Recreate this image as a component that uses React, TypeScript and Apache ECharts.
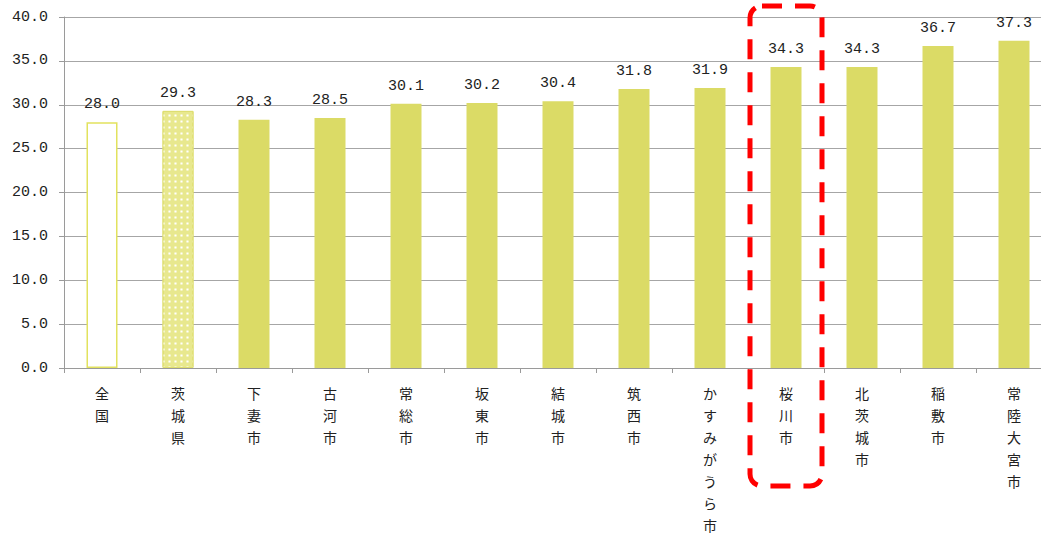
import React, { useEffect, useRef } from "react";
import * as echarts from "echarts";

const categories = [
  "全国", "茨城県", "下妻市", "古河市", "常総市", "坂東市", "結城市",
  "筑西市", "かすみがうら市", "桜川市", "北茨城市", "稲敷市", "常陸大宮市",
];
const values = [28.0, 29.3, 28.3, 28.5, 30.1, 30.2, 30.4, 31.8, 31.9, 34.3, 34.3, 36.7, 37.3];
const yTicks = { min: 0, max: 40, interval: 5 };
const highlightCategory = "桜川市";

const BAR = "#DBDB66";
const NUM_FONT = "Liberation Mono";
const CJK_FONT = "Noto Sans CJK JP";

export default function App() {
  const ref = useRef<HTMLDivElement>(null);
  useEffect(() => {
    const chart = echarts.init(ref.current!, null, { renderer: "svg" });
    const data = values.map((v, i) => {
      if (i === 0) {
        return {
          value: v,
          itemStyle: { color: "#FFFFFF", borderColor: "#E2E25E", borderWidth: 1.5 },
        };
      }
      if (i === 1) {
        return {
          value: v,
          itemStyle: {
            color: "#E8E88E",
            borderColor: "#DEDE70",
            borderWidth: 1,
            decal: {
              symbol: "rect",
              symbolSize: 0.7,
              color: "#FFFFFF",
              backgroundColor: "#E8E88E",
              dashArrayX: [[3, 3]],
              dashArrayY: [3, 3],
              rotation: 0,
            },
          },
        };
      }
      return { value: v, itemStyle: { color: BAR } };
    });
    chart.setOption({
      animation: false,
      grid: { left: 64, top: 17, width: 988, height: 351, containLabel: false },
      xAxis: {
        type: "category",
        data: categories,
        axisLine: { lineStyle: { color: "#9A9A9A", width: 1 } },
        axisTick: { show: true, length: 5, lineStyle: { color: "#9A9A9A" } },
        axisLabel: {
          interval: 0,
          margin: 14,
          fontFamily: CJK_FONT,
          fontSize: 14,
          lineHeight: 22,
          color: "#222",
          verticalAlign: "top",
          formatter: (v: string) => v.split("").join("\n"),
        },
      },
      yAxis: {
        type: "value",
        min: yTicks.min,
        max: yTicks.max,
        interval: yTicks.interval,
        axisLine: { show: true, lineStyle: { color: "#9A9A9A", width: 1 } },
        axisTick: { show: true, length: 5, lineStyle: { color: "#9A9A9A" } },
        splitLine: { show: true, lineStyle: { color: "#A6A6A6", width: 1 } },
        axisLabel: {
          margin: 16,
          fontFamily: NUM_FONT,
          fontSize: 15,
          color: "#222",
          formatter: (v: number) => v.toFixed(1),
        },
      },
      series: [
        {
          type: "bar",
          data,
          barWidth: 31,
          label: {
            show: true,
            position: "top",
            distance: 10,
            fontFamily: NUM_FONT,
            fontSize: 15,
            color: "#222",
            formatter: (p: any) => Number(p.value).toFixed(1),
          },
        },
      ],
    });
    const cx = chart.convertToPixel({ xAxisIndex: 0 }, highlightCategory) as number;
    const boxW = 72;
    chart.setOption({
      graphic: [
        {
          type: "rect",
          shape: { x: cx - boxW / 2, y: 6, width: boxW, height: 480, r: 12 },
          style: { fill: "none", stroke: "#FF0000", lineWidth: 5, lineDash: [20, 13] },
          z: 100,
        },
      ],
    });
    return () => chart.dispose();
  }, []);
  return (
    <div
      style={{
        position: "absolute",
        left: 0,
        top: 0,
        width: 1041,
        height: 536,
        overflow: "hidden",
      }}
    >
      <div ref={ref} style={{ width: 1052, height: 536 }} />
    </div>
  );
}
